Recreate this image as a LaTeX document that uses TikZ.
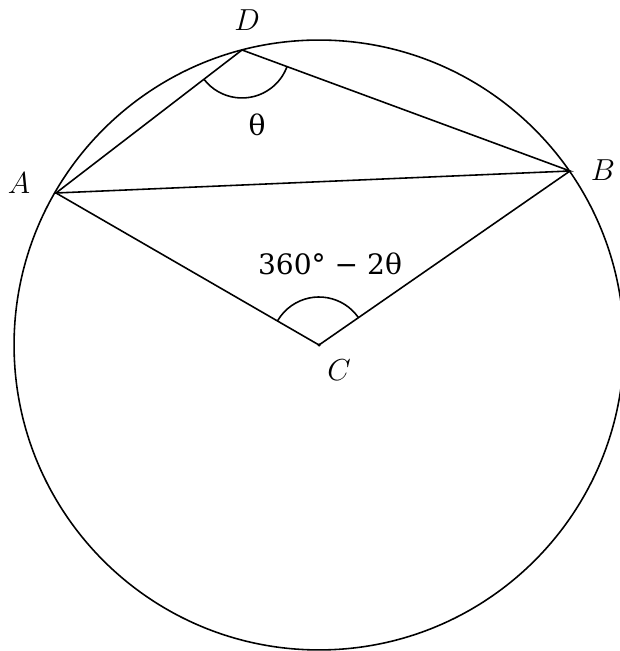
\documentclass[tikz,border=0pt]{standalone}
\usepackage{fontspec}
\usetikzlibrary{angles,calc}
\newfontfamily\grk{DejaVu Serif}

\begin{document}
\begin{tikzpicture}[x=0.02cm,y=0.02cm,line width=0.9pt,
  pt/.style={font=\fontsize{17}{20}\selectfont},
  lbl/.style={font=\grk\fontsize{16}{19}\selectfont},
  ang/.style={draw,angle radius=0.96cm}]
\useasboundingbox (0,0) rectangle (619,651);
% points on the circle
\coordinate (C) at (319,306);
\coordinate (A) at (56,458);
\coordinate (B) at (570,480);
\coordinate (D) at (242,601);
\draw (C) circle[radius=6.1cm];
\draw (A)--(D)--(B)--cycle;
\draw (A)--(C)--(B);
\fill (C) circle[radius=0.035cm];
% angles
\pic[ang] {angle=A--D--B};
\pic[ang] {angle=B--C--A};
% labels
\node[pt] (labA) at (19,468) {$A$};
\node[pt] (labB) at (603,481) {$B$};
\node[pt] (labC) at (339,281) {$C$};
\node[pt] (labD) at (247,631) {$D$};
\node[lbl] (theta) at (257,526) {θ};
\node[lbl] (angC) at (330,387) {360° − 2θ};
\end{tikzpicture}
\end{document}
